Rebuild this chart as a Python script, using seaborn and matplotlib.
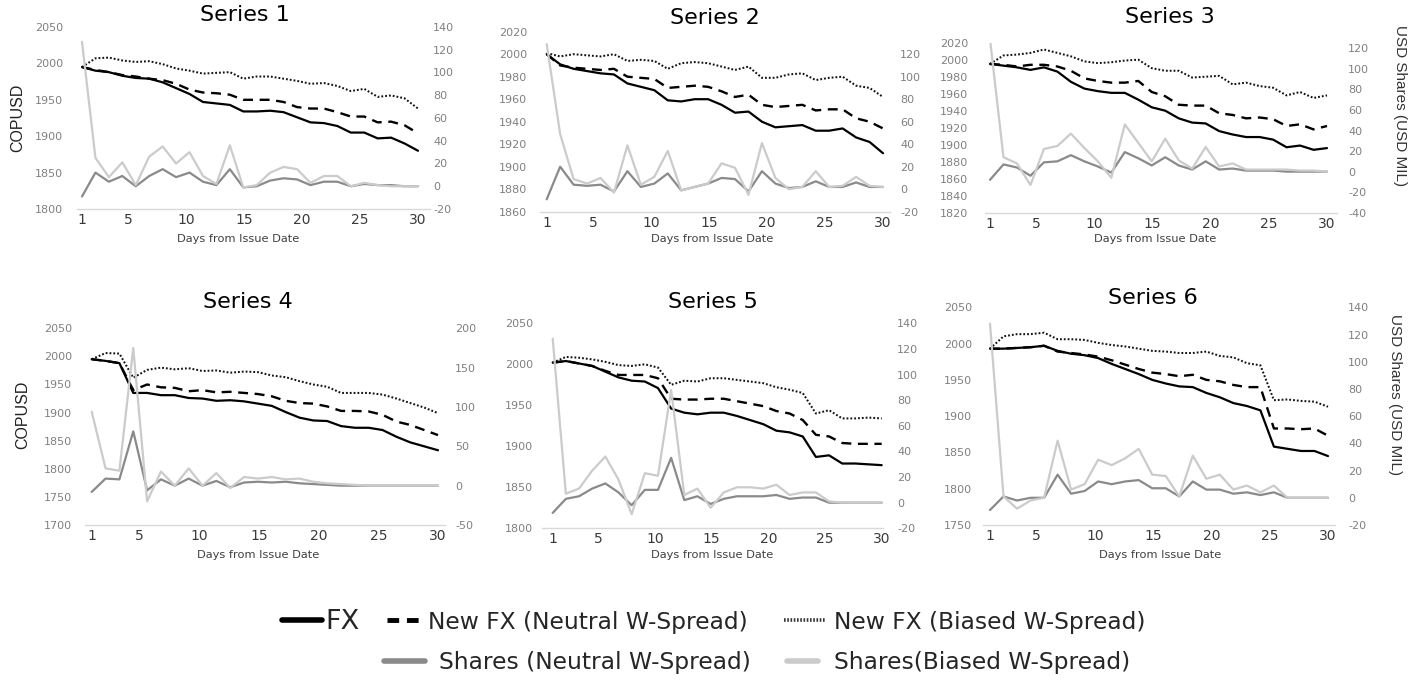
import numpy as np
import matplotlib
matplotlib.use("Agg")
import matplotlib.pyplot as plt
from matplotlib.lines import Line2D
from matplotlib import font_manager
import seaborn as sns

# ---------------- data ----------------
days = np.linspace(1, 30, 26)
x_ticks = [1, 5, 10, 15, 20, 25, 30]

s1_fx = [1995,1990,1988,1983,1980,1979,1974,1966,1958,1947,1945,1943,1934,1934,1935,1933,1926,1919,1918,1914,1905,1905,1897,1898,1890,1880]
s1_new_neutral = [1995,1991,1988,1984,1982,1979,1977,1972,1964,1960,1959,1957,1950,1950,1950,1947,1940,1938,1938,1933,1927,1927,1919,1920,1915,1904]
s1_new_biased = [1995,2007,2008,2004,2002,2003,1999,1993,1990,1986,1987,1988,1979,1982,1982,1979,1976,1972,1973,1969,1962,1965,1954,1956,1952,1938]
s1_sh_neutral = [-9,12,4,9,0,9,15,8,12,4,1,15,-1,0,5,7,6,1,4,4,0,2,1,1,0,0]
s1_sh_biased = [127,25,8,21,1,26,35,20,30,9,2,36,-1,1,12,17,15,3,9,9,0,3,1,0,0,0]

s2_fx = [2000,1991,1987,1985,1983,1982,1974,1971,1968,1959,1958,1960,1960,1955,1948,1949,1940,1935,1936,1937,1932,1932,1934,1926,1922,1912]
s2_new_neutral = [2000,1990,1988,1987,1986,1987,1980,1979,1978,1970,1971,1972,1971,1967,1962,1964,1955,1953,1954,1955,1950,1951,1951,1943,1940,1934]
s2_new_biased = [2001,1998,2000,1999,1998,2000,1994,1995,1994,1987,1992,1993,1992,1989,1986,1989,1979,1979,1982,1983,1977,1979,1980,1972,1970,1962]
s2_sh_neutral = [-9,20,4,3,4,-2,16,2,5,14,-1,2,5,10,9,-2,16,5,1,2,7,2,2,6,2,2]
s2_sh_biased = [129,49,9,5,10,-3,39,4,11,34,-1,2,5,23,19,-5,41,10,0,2,16,2,3,11,3,2]

s3_fx = [1995,1993,1991,1988,1991,1986,1974,1966,1963,1961,1961,1953,1944,1940,1931,1926,1925,1916,1912,1909,1909,1906,1897,1899,1894,1896]
s3_new_neutral = [1995,1994,1992,1994,1994,1992,1987,1978,1975,1973,1973,1975,1962,1957,1947,1946,1946,1937,1935,1931,1932,1930,1922,1924,1918,1922]
s3_new_biased = [1995,2005,2006,2008,2012,2008,2004,1998,1996,1997,1999,2000,1990,1987,1987,1979,1980,1981,1971,1973,1969,1967,1958,1962,1955,1958]
s3_sh_neutral = [-8,7,4,-4,9,10,16,10,5,-1,19,13,6,14,6,2,10,2,3,1,1,1,0,0,0,0]
s3_sh_biased = [129,14,8,-13,22,25,37,23,10,-6,46,28,10,32,11,3,24,5,8,2,2,2,2,1,1,0]

s4_fx = [1995,1992,1988,1935,1935,1931,1931,1926,1925,1921,1922,1920,1916,1912,1901,1891,1886,1885,1876,1873,1873,1869,1857,1847,1840,1833]
s4_new_neutral = [1995,1992,1988,1940,1950,1945,1944,1938,1940,1936,1937,1935,1933,1929,1921,1917,1916,1911,1903,1903,1902,1896,1884,1878,1869,1860]
s4_new_biased = [1995,2006,2005,1962,1976,1980,1977,1979,1974,1975,1971,1973,1972,1966,1963,1956,1950,1946,1935,1935,1935,1932,1925,1917,1909,1899]
s4_sh_neutral = [-8,9,8,69,-6,8,0,9,0,6,-2,4,5,4,5,3,2,1,0,0,0,0,0,0,0,0]
s4_sh_biased = [94,22,19,175,-20,18,0,22,0,16,-3,11,9,11,8,9,5,3,2,1,0,0,0,0,0,0]

s5_fx = [2002,2004,2001,1998,1991,1984,1980,1979,1971,1946,1941,1939,1941,1941,1937,1932,1927,1919,1917,1912,1887,1889,1879,1879,1878,1877]
s5_new_neutral = [2002,2004,2001,1998,1992,1987,1987,1987,1983,1958,1957,1957,1958,1958,1955,1952,1949,1943,1940,1932,1914,1912,1904,1903,1903,1903]
s5_new_biased = [2002,2009,2008,2006,2003,1999,1998,2000,1996,1975,1980,1979,1983,1983,1981,1979,1977,1972,1969,1965,1940,1944,1934,1934,1935,1934]
s5_sh_neutral = [-8,3,5,11,15,8,-2,10,10,35,2,5,-1,3,5,5,5,6,3,4,4,0,0,0,0,0]
s5_sh_biased = [128,7,11,25,36,18,-9,23,21,88,6,11,-4,8,12,12,11,14,6,8,8,1,0,0,0,0]

s6_fx = [1993,1993,1994,1995,1997,1990,1986,1984,1980,1972,1965,1958,1950,1945,1941,1940,1932,1926,1918,1914,1908,1858,1855,1852,1852,1845]
s6_new_neutral = [1993,1993,1994,1995,1997,1989,1987,1985,1982,1977,1971,1965,1960,1958,1955,1957,1950,1948,1943,1940,1940,1883,1883,1882,1883,1873]
s6_new_biased = [1993,2010,2013,2013,2015,2006,2006,2005,2001,1998,1996,1993,1990,1989,1987,1987,1989,1983,1981,1973,1970,1922,1923,1921,1920,1913]
s6_sh_neutral = [-9,1,-2,0,0,17,3,5,12,10,12,13,7,7,1,12,6,6,3,4,2,4,0,0,0,0]
s6_sh_biased = [128,1,-8,-2,0,42,6,10,28,24,29,36,17,16,1,31,14,17,6,9,4,9,0,0,0,0]

titles = ["Series 1", "Series 2", "Series 3", "Series 4", "Series 5", "Series 6"]
legend_labels = ["FX", "New FX (Neutral W-Spread)", "New FX (Biased W-Spread)",
                 "Shares (Neutral W-Spread)", "Shares(Biased W-Spread)"]
left_ticks_1 = [1800, 1850, 1900, 1950, 2000, 2050]
left_ticks_2 = [1860, 1880, 1900, 1920, 1940, 1960, 1980, 2000, 2020]
left_ticks_3 = [1820, 1840, 1860, 1880, 1900, 1920, 1940, 1960, 1980, 2000, 2020]
left_ticks_4 = [1700, 1750, 1800, 1850, 1900, 1950, 2000, 2050]
left_ticks_5 = [1800, 1850, 1900, 1950, 2000, 2050]
left_ticks_6 = [1750, 1800, 1850, 1900, 1950, 2000, 2050]
right_ticks_1 = [-20, 0, 20, 40, 60, 80, 100, 120, 140]
right_ticks_2 = [-20, 0, 20, 40, 60, 80, 100, 120]
right_ticks_3 = [-40, -20, 0, 20, 40, 60, 80, 100, 120]
right_ticks_4 = [-50, 0, 50, 100, 150, 200]
right_ticks_5 = [-20, 0, 20, 40, 60, 80, 100, 120, 140]
right_ticks_6 = [-20, 0, 20, 40, 60, 80, 100, 120, 140]
y_label = "COPUSD"
y2_label = "USD Shares (USD MIL)"
x_label = "Days from Issue Date"

# ---------------- style ----------------
sns.set_theme(style="white")
plt.rcParams["font.family"] = ["DejaVu Sans"]
names = {f.name for f in font_manager.fontManager.ttflist}
NARROW = "Liberation Sans Narrow" if "Liberation Sans Narrow" in names else "Liberation Sans"

W, H = 1419, 681
fig = plt.figure(figsize=(W / 100, H / 100), dpi=100)
fig.patch.set_facecolor("white")

FX_KW = dict(color="black", linewidth=1.6, linestyle="-")
NEU_KW = dict(color="black", linewidth=1.7, linestyle=(0, (4.2, 2.8)))
BIA_KW = dict(color="#111111", linewidth=1.45, linestyle=(0, (0.9, 1.0)))
SHN_KW = dict(color="#8a8a8a", linewidth=1.6, linestyle="-")
SHB_KW = dict(color="#cbcbcb", linewidth=1.6, linestyle="-")

panels = [
    dict(fx=s1_fx, nn=s1_new_neutral, nb=s1_new_biased, sn=s1_sh_neutral, sb=s1_sh_biased,
         box=(77, 430, 27, 209), dx=(82, 418), ylim=(1800, 2050), yt=left_ticks_1,
         rlim=(-20, 140), rt=right_ticks_1, lpad=14, rpad=3,
         title_xy=(245, 15), xl_xy=(238, 239), ylab=(18, 118), y2lab=None),
    dict(fx=s2_fx, nn=s2_new_neutral, nb=s2_new_biased, sn=s2_sh_neutral, sb=s2_sh_biased,
         box=(540, 890, 31.7, 211.7), dx=(546.7, 883), ylim=(1860, 2020), yt=left_ticks_2,
         rlim=(-20, 140), rt=right_ticks_2, lpad=13, rpad=10,
         title_xy=(715, 18), xl_xy=(712, 239), ylab=None, y2lab=None),
    dict(fx=s3_fx, nn=s3_new_neutral, nb=s3_new_biased, sn=s3_sh_neutral, sb=s3_sh_biased,
         box=(985, 1337, 42.7, 212.7), dx=(990, 1327), ylim=(1820, 2020), yt=left_ticks_3,
         rlim=(-40, 125.5), rt=right_ticks_3, lpad=17, rpad=11,
         title_xy=(1170, 17), xl_xy=(1155, 239), ylab=None, y2lab=(1400, 106)),
    dict(fx=s4_fx, nn=s4_new_neutral, nb=s4_new_biased, sn=s4_sh_neutral, sb=s4_sh_biased,
         box=(85, 445, 328.3, 525), dx=(91.7, 438), ylim=(1700, 2050), yt=left_ticks_4,
         rlim=(-50, 200), rt=right_ticks_4, lpad=13, rpad=10,
         title_xy=(248, 302), xl_xy=(258, 555), ylab=(23, 415), y2lab=None),
    dict(fx=s5_fx, nn=s5_new_neutral, nb=s5_new_biased, sn=s5_sh_neutral, sb=s5_sh_biased,
         box=(542, 883, 323.3, 528.3), dx=(552.7, 881.7), ylim=(1800, 2050), yt=left_ticks_5,
         rlim=(-20, 140), rt=right_ticks_5, lpad=9, rpad=14,
         title_xy=(713, 302), xl_xy=(712, 555), ylab=None, y2lab=None),
    dict(fx=s6_fx, nn=s6_new_neutral, nb=s6_new_biased, sn=s6_sh_neutral, sb=s6_sh_biased,
         box=(983, 1335, 307.3, 525), dx=(990, 1328), ylim=(1750, 2050), yt=left_ticks_6,
         rlim=(-20, 140), rt=right_ticks_6, lpad=11, rpad=13,
         title_xy=(1153, 298), xl_xy=(1160, 555), ylab=None, y2lab=(1395, 395)),
]

PX2PT = 0.72

for title, p in zip(titles, panels):
    x0, x1, y0, y1 = p["box"]
    rect = [x0 / W, 1 - y1 / H, (x1 - x0) / W, (y1 - y0) / H]
    ax = fig.add_axes(rect)
    ax2 = ax.twinx()
    ax2.set_position(rect)

    sns.lineplot(x=days, y=p["fx"], ax=ax, legend=False, **FX_KW)
    sns.lineplot(x=days, y=p["nn"], ax=ax, legend=False, **NEU_KW)
    sns.lineplot(x=days, y=p["nb"], ax=ax, legend=False, **BIA_KW)
    sns.lineplot(x=days, y=p["sn"], ax=ax2, legend=False, **SHN_KW)
    sns.lineplot(x=days, y=p["sb"], ax=ax2, legend=False, **SHB_KW)

    p1, p30 = p["dx"]
    s = (p30 - p1) / 29.0
    ax.set_xlim(1 - (p1 - x0) / s, 30 + (x1 - p30) / s)
    ax.set_ylim(*p["ylim"])
    ax.set_yticks(p["yt"])
    ax.set_yticklabels([str(v) for v in p["yt"]])
    ax2.set_ylim(*p["rlim"])
    ax2.set_yticks(p["rt"])
    ax2.set_yticklabels([str(v) for v in p["rt"]])
    ax.set_xticks(x_ticks)
    ax.set_xticklabels([str(v) for v in x_ticks])

    ax.tick_params(axis="x", length=0, pad=3, labelsize=10, labelcolor="#3a3a3a")
    ax.tick_params(axis="y", length=0, pad=p["lpad"] * PX2PT, labelsize=8, labelcolor="#808080")
    ax2.tick_params(axis="y", length=0, pad=p["rpad"] * PX2PT, labelsize=8, labelcolor="#808080")
    for sp in ("top", "right", "left"):
        ax.spines[sp].set_visible(False)
    ax.spines["bottom"].set_color("#d9d9d9")
    ax.spines["bottom"].set_linewidth(1.0)
    for sp in ax2.spines.values():
        sp.set_visible(False)
    ax.set_xlabel("")
    ax.set_ylabel("")
    ax2.set_ylabel("")
    ax.grid(False)
    ax2.grid(False)

    tx, ty = p["title_xy"]
    fig.text(tx / W, 1 - ty / H, title, ha="center", va="center", fontsize=16, color="black")
    lx, ly = p["xl_xy"]
    fig.text(lx / W, 1 - ly / H, x_label, ha="center", va="center", fontsize=8.2, color="#404040")
    if p["ylab"] is not None:
        cx, cy = p["ylab"]
        fig.text(cx / W, 1 - cy / H, y_label, ha="center", va="center", rotation=90,
                 fontsize=11.5, family=[NARROW, "DejaVu Sans"], color="#222222")
    if p["y2lab"] is not None:
        cx, cy = p["y2lab"]
        fig.text(cx / W, 1 - cy / H, y2_label, ha="center", va="center", rotation=270,
                 fontsize=11, family=[NARROW, "DejaVu Sans"], color="#333333")

# ---------------- legend ----------------
handles = [
    Line2D([], [], color="black", linewidth=4.0),
    Line2D([], [], color="black", linewidth=3.5, linestyle=(0, (2.4, 1.6))),
    Line2D([], [], color="#333333", linewidth=2.6, linestyle=(0, (0.45, 0.45))),
    Line2D([], [], color="#8a8a8a", linewidth=4.0),
    Line2D([], [], color="#cbcbcb", linewidth=4.0),
]
# (handle start px, handle end px, text start px, row centre px, fontsize pt)
entries = [
    (282, 322, 325, 622, 19.5),
    (387, 422, 428, 622, 16.8),
    (784, 826, 834, 622, 16.8),
    (384, 425, 439, 663, 16.8),
    (787, 818, 834, 663, 16.8),
]
for h, lab, (hs, he, ts, yc, fs) in zip(handles, legend_labels, entries):
    fs_px = fs / PX2PT
    fig.legend(handles=[h], labels=[lab], loc="center left",
               bbox_to_anchor=(hs / W, 1 - yc / H), frameon=False,
               fontsize=fs, handlelength=(he - hs) / fs_px,
               handletextpad=(ts - he) / fs_px, borderpad=0, borderaxespad=0)

fig.savefig("out.png", dpi=100, facecolor="white")
